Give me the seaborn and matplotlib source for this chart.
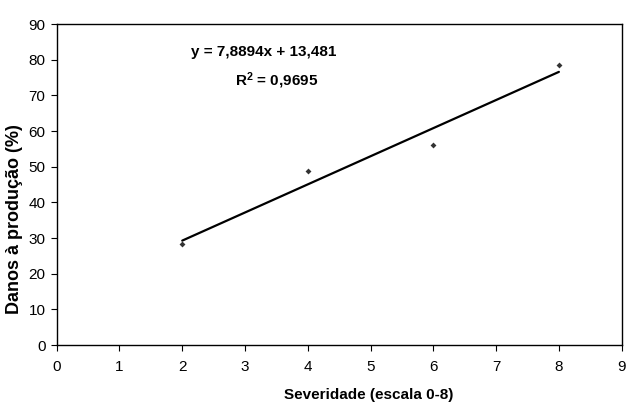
import matplotlib
matplotlib.use("Agg")
import matplotlib.pyplot as plt
import seaborn as sns
import numpy as np
import pandas as pd

severity = [2, 4, 6, 8]
damage = [28.3, 48.8, 56.2, 78.4]
equation_text = "y = 7,8894x + 13,481"
r2_text = "R$^2$ = 0,9695"
x_label = "Severidade (escala 0-8)"
y_label = "Danos à produção (%)"
x_ticks = list(range(0, 10))
y_ticks = list(range(0, 100, 10))

sns.set_style("white")
plt.rcParams['font.family'] = ['Liberation Sans', 'DejaVu Sans']
plt.rcParams['text.color'] = 'black'
plt.rcParams['axes.labelcolor'] = 'black'
plt.rcParams['mathtext.fontset'] = 'custom'
plt.rcParams['mathtext.rm'] = 'Liberation Sans:bold'
plt.rcParams['mathtext.it'] = 'Liberation Sans:bold'
plt.rcParams['mathtext.bf'] = 'Liberation Sans:bold'

df = pd.DataFrame({"x": severity, "y": damage})

fig = plt.figure(figsize=(6.27, 4.03), dpi=100)
ax = fig.add_axes([0.0904, 0.1439, 0.9915 - 0.0904, 0.9404 - 0.1439])

sns.regplot(data=df, x="x", y="y", ax=ax, ci=None, color="black",
            marker="D", scatter_kws={"s": 9, "linewidths": 0},
            line_kws={"linewidth": 1.6})

ax.set_xlim(0, 9)
ax.set_ylim(0, 90)
ax.set_xticks(x_ticks)
ax.set_yticks(y_ticks)
ax.set_xticklabels([str(t) for t in x_ticks])
ax.set_yticklabels([str(t) for t in y_ticks])
ax.tick_params(axis="both", direction="out", length=4, width=0.8,
               labelsize=11, color="black", labelcolor="black")
ax.tick_params(axis="x", pad=7, bottom=True)
ax.tick_params(axis="y", pad=4, left=True)

for s in ax.spines.values():
    s.set_visible(True)
    s.set_color("black")
    s.set_linewidth(1.0)

ax.set_xlabel(x_label, fontsize=11, fontweight="bold", color="black")
ax.xaxis.set_label_coords(0.553, -0.156)
ax.xaxis.label.set_va("center")
ax.set_ylabel(y_label, fontsize=13, fontweight="bold", color="black")
ax.yaxis.set_label_coords(-0.074, 0.3925)
ax.yaxis.label.set_va("center")

ax.text(0.367, 0.914, equation_text, transform=ax.transAxes, ha="center",
        va="center", fontsize=11, fontweight="bold", color="black")
ax.text(0.389, 0.822, r2_text, transform=ax.transAxes, ha="center",
        va="center", fontsize=11, fontweight="bold", color="black")

fig.savefig("out.png", dpi=100)
